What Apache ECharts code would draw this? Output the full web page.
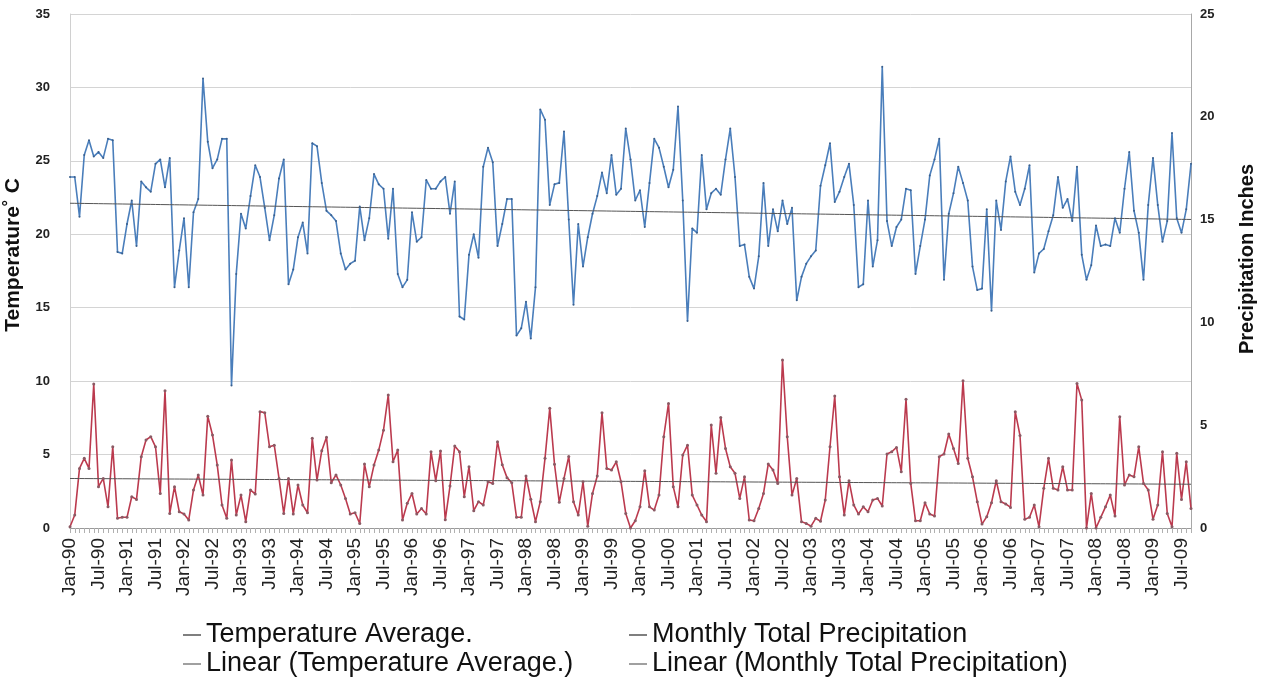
<!DOCTYPE html>
<html>
<head>
<meta charset="utf-8">
<script src="https://cdn.jsdelivr.net/npm/echarts@6/dist/echarts.min.js"></script>
<style>
html,body{margin:0;padding:0;background:#fff;}
#chart{width:1263px;height:677px;}
</style>
</head>
<body>
<div id="chart"></div>
<script>
// ---- data ----
var monthNames = ['Jan','Feb','Mar','Apr','May','Jun','Jul','Aug','Sep','Oct','Nov','Dec'];
var startYear = 1990;
var monthCount = 237; // Jan-90 .. Sep-09

var temperature = [
23.9,23.9,21.2,25.4,26.4,25.3,25.6,25.2,26.5,26.4,
18.8,18.7,20.7,22.3,19.2,23.6,23.2,22.9,24.8,25.1,
23.2,25.2,16.4,18.9,21.1,16.4,21.5,22.4,30.6,26.3,
24.5,25.1,26.5,26.5,9.7,17.3,21.4,20.4,22.6,24.7,
23.9,21.8,19.6,21.3,23.8,25.1,16.6,17.6,19.8,20.8,
18.7,26.2,26.0,23.5,21.6,21.3,20.9,18.7,17.6,18.0,
18.2,21.9,19.6,21.1,24.1,23.4,23.1,19.7,23.1,17.3,
16.4,16.9,21.5,19.5,19.8,23.7,23.1,23.1,23.6,23.9,
21.4,23.6,14.4,14.2,18.6,20.0,18.4,24.6,25.9,24.9,
19.2,20.7,22.4,22.4,13.1,13.6,15.4,12.9,16.4,28.5,
27.8,22.0,23.4,23.5,27.0,21.0,15.2,20.7,17.8,19.8,
21.4,22.6,24.2,22.8,25.4,22.7,23.1,27.2,25.1,22.3,
23.0,20.5,23.5,26.5,25.9,24.6,23.2,24.4,28.7,22.3,
14.1,20.4,20.1,25.4,21.7,22.8,23.1,22.7,25.1,27.2,
23.9,19.2,19.3,17.1,16.3,18.5,23.5,19.2,21.7,20.2,
22.3,20.7,21.8,15.5,17.1,18.0,18.5,18.9,23.3,24.7,
26.2,22.2,22.9,23.9,24.8,22.0,16.4,16.6,22.3,17.8,
19.6,31.4,20.9,19.2,20.5,21.0,23.1,23.0,17.3,19.2,
21.0,24.0,25.1,26.5,16.9,21.4,22.8,24.6,23.5,22.3,
17.8,16.2,16.3,21.7,14.8,22.3,20.3,23.6,25.3,22.9,
22.0,23.1,24.7,17.4,18.7,19.0,20.2,21.3,23.9,21.8,
22.4,20.9,24.6,18.6,16.9,17.9,20.6,19.2,19.3,19.2,
21.1,20.1,23.1,25.6,21.6,20.1,16.9,22.0,25.2,22.0,
19.5,20.9,26.9,21.1,20.1,21.7,24.8
];

var precipitation = [
0.06,0.63,2.90,3.39,2.90,7.00,2.01,2.41,1.03,3.95,
0.47,0.52,0.52,1.52,1.39,3.47,4.28,4.44,3.95,1.68,
6.68,0.71,2.01,0.79,0.68,0.39,1.85,2.58,1.60,5.44,
4.52,3.06,1.12,0.47,3.31,0.63,1.60,0.31,1.85,1.65,
5.66,5.61,3.95,4.03,2.41,0.71,2.41,0.68,2.09,1.12,
0.74,4.36,2.33,3.76,4.41,2.20,2.58,2.09,1.44,0.68,
0.74,0.22,3.11,2.01,3.06,3.79,4.76,6.47,3.22,3.79,
0.39,1.20,1.68,0.68,0.95,0.68,3.71,2.30,3.75,0.40,
2.04,3.99,3.71,1.52,2.98,0.84,1.28,1.12,2.25,2.17,
4.20,3.08,2.45,2.20,0.52,0.52,2.53,1.40,0.31,1.28,
3.39,5.82,3.10,1.25,2.41,3.48,1.28,0.63,2.25,0.08,
1.68,2.53,5.61,2.90,2.82,3.22,2.25,0.71,0.00,0.35,
1.03,2.79,1.03,0.87,1.60,4.44,6.06,2.01,1.03,3.55,
4.03,1.60,1.12,0.63,0.31,5.01,2.66,5.38,3.87,2.98,
2.66,1.44,2.49,0.39,0.35,0.95,1.68,3.11,2.82,2.17,
8.17,4.44,1.60,2.41,0.31,0.22,0.09,0.47,0.33,1.36,
3.95,6.42,2.49,0.63,2.30,1.12,0.68,1.03,0.79,1.36,
1.44,1.07,3.60,3.71,3.92,2.74,6.26,2.17,0.35,0.35,
1.23,0.68,0.58,3.47,3.60,4.57,3.87,3.14,7.16,3.39,
2.49,1.28,0.19,0.55,1.23,2.30,1.28,1.17,1.00,5.66,
4.50,0.42,0.52,1.12,0.06,1.93,3.39,1.93,1.85,2.98,
1.85,1.85,7.03,6.22,0.00,1.68,0.00,0.52,1.03,1.60,
0.58,5.41,2.09,2.58,2.49,3.95,2.17,1.85,0.42,1.12,
3.71,0.71,0.06,3.63,1.39,3.22,0.95
];

var tempTicks = {min:0, max:35, interval:5};
var precTicks = {min:0, max:25, interval:5};

var legendLeft = ['Temperature Average.', 'Linear (Temperature Average.)'];
var legendRight = ['Monthly Total Precipitation', 'Linear (Monthly Total Precipitation)'];

// ---- derived ----
var categories = [];
for (var i = 0; i < monthCount; i++) {
  var y = startYear + Math.floor(i / 12);
  categories.push(monthNames[i % 12] + '-' + String(y % 100).padStart(2, '0'));
}
function linearFit(arr) {
  var n = arr.length, sx = 0, sy = 0, sxx = 0, sxy = 0;
  for (var k = 0; k < n; k++) { sx += k; sy += arr[k]; sxx += k * k; sxy += k * arr[k]; }
  var b = (n * sxy - sx * sy) / (n * sxx - sx * sx);
  var a = (sy - b * sx) / n;
  return arr.map(function (_, k) { return +(a + b * k).toFixed(3); });
}
var tempTrend = linearFit(temperature);
var precTrend = linearFit(precipitation);

var FONT = 'Liberation Sans, Arial, sans-serif';
var legendText = {fontFamily: FONT, fontSize: 27, color: '#111', lineHeight: 28};
function mkLegend(name, left, top, color) {
  return {
    left: left, top: top, orient: 'horizontal', itemWidth: 18, itemHeight: 2,
    icon: 'rect', textStyle: legendText, selectedMode: false,
    data: [{name: name, itemStyle: {color: color}}]
  };
}

var chart = echarts.init(document.getElementById('chart'));
chart.setOption({
  animation: false,
  backgroundColor: '#ffffff',
  grid: {left: 70, right: 72, top: 14, bottom: 149, containLabel: false, outerBoundsMode: 'none'},
  legend: [
    mkLegend(legendLeft[0], 178, 616, '#7f7f7f'),
    mkLegend(legendLeft[1], 178, 645, '#a0a0a0'),
    mkLegend(legendRight[0], 624, 616, '#7f7f7f'),
    mkLegend(legendRight[1], 624, 645, '#a0a0a0')
  ],
  xAxis: {
    type: 'category',
    data: categories,
    boundaryGap: false,
    axisLine: {lineStyle: {color: '#9a9a9a', width: 1}},
    axisTick: {show: true, interval: 0, length: 5, lineStyle: {color: '#b0b0b0'}},
    axisLabel: {
      interval: 5, rotate: 90, margin: 10,
      fontFamily: FONT, fontSize: 19, color: '#222'
    },
    splitLine: {show: false}
  },
  yAxis: [
    {
      type: 'value', min: tempTicks.min, max: tempTicks.max, interval: tempTicks.interval,
      name: 'Temperature\u02da C', nameLocation: 'middle', nameGap: 46, nameRotate: 90,
      nameTextStyle: {fontFamily: FONT, fontSize: 21, fontWeight: 'bold', color: '#111', padding: [0, 0, 0, 32]},
      axisLine: {show: true, lineStyle: {color: '#d0d0d0'}},
      axisTick: {show: false},
      axisLabel: {margin: 20, fontFamily: FONT, fontSize: 13, fontWeight: 'bold', color: '#222'},
      splitLine: {show: true, lineStyle: {color: '#d4d4d4', width: 1}}
    },
    {
      type: 'value', min: precTicks.min, max: precTicks.max, interval: precTicks.interval,
      name: 'Precipitation Inches', nameLocation: 'middle', nameGap: 46, nameRotate: 90,
      nameTextStyle: {fontFamily: FONT, fontSize: 20, fontWeight: 'bold', color: '#111', padding: [0, 0, 0, 24]},
      axisLine: {show: true, lineStyle: {color: '#a8a8a8'}},
      axisTick: {show: false},
      axisLabel: {margin: 9, fontFamily: FONT, fontSize: 13, fontWeight: 'bold', color: '#222'},
      splitLine: {show: false}
    }
  ],
  series: [
    {
      name: legendLeft[0], type: 'line', yAxisIndex: 0, data: temperature,
      symbol: 'circle', symbolSize: 2, showSymbol: true,
      lineStyle: {color: '#4a7ebb', width: 1.6},
      itemStyle: {color: '#3a5f8c'}
    },
    {
      name: legendLeft[1], type: 'line', yAxisIndex: 0, data: tempTrend,
      symbol: 'none', lineStyle: {color: '#555555', width: 1}
    },
    {
      name: legendRight[0], type: 'line', yAxisIndex: 1, data: precipitation,
      symbol: 'circle', symbolSize: 3, showSymbol: true,
      lineStyle: {color: '#bb3a4e', width: 1.6},
      itemStyle: {color: '#8a5a64'}
    },
    {
      name: legendRight[1], type: 'line', yAxisIndex: 1, data: precTrend,
      symbol: 'none', lineStyle: {color: '#555555', width: 1}
    }
  ]
});
</script>
</body>
</html>
